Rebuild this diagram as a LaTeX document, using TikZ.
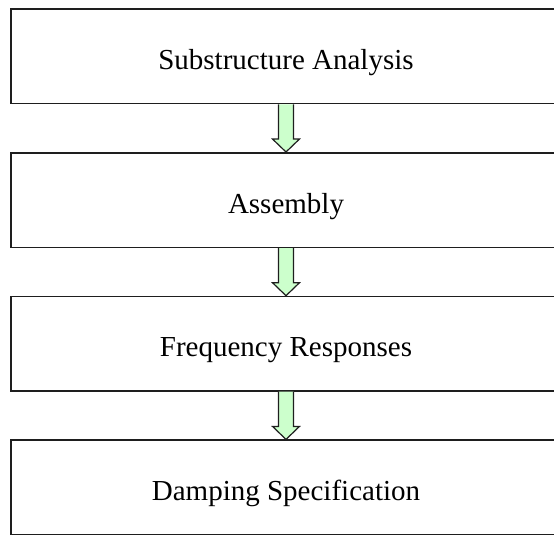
\documentclass[tikz,border=0pt]{standalone}
\usepackage{fontspec}
\setmainfont{Liberation Serif}
\usepackage{tikz}
\usetikzlibrary{positioning,calc}
\definecolor{flowgreen}{RGB}{204,255,204}
\definecolor{boxline}{RGB}{30,30,30}
\tikzstyle{stage} = [rectangle, draw=boxline, line width=1.5pt, minimum width=550pt, minimum height=94.5pt, inner sep=0pt, text height=28pt, text depth=2pt, text centered, font=\fontsize{29}{34}\selectfont]
\tikzstyle{flowarrow} = [draw=boxline, line width=1.2pt, fill=flowgreen, line join=miter]
% block arrow from the bottom of one stage to the top of the next
\newcommand{\stagearrow}[2]{%
  \draw[flowarrow] ($(#1.south)+(-7.5pt,0)$) -- ($(#2.north)+(-7.5pt,13pt)$) -- ++(-6pt,0) -- (#2.north)
    -- ($(#2.north)+(13.5pt,13pt)$) -- ++(-6pt,0) -- ($(#1.south)+(7.5pt,0)$);}

\begin{document}
\begin{tikzpicture}[x=1pt, y=1pt]
    \useasboundingbox (0,0) rectangle (554,-536);
    % Nodes
    \node[stage] (sub) at (286,-56.3) {Substructure Analysis};
    \node[stage, below=47.7pt of sub] (asm) {Assembly};
    \node[stage, below=47.7pt of asm] (freq) {Frequency Responses};
    \node[stage, below=47.7pt of freq] (damp) {Damping Specification};

    % Arrows
    \stagearrow{sub}{asm}
    \stagearrow{asm}{freq}
    \stagearrow{freq}{damp}
\end{tikzpicture}
\end{document}
